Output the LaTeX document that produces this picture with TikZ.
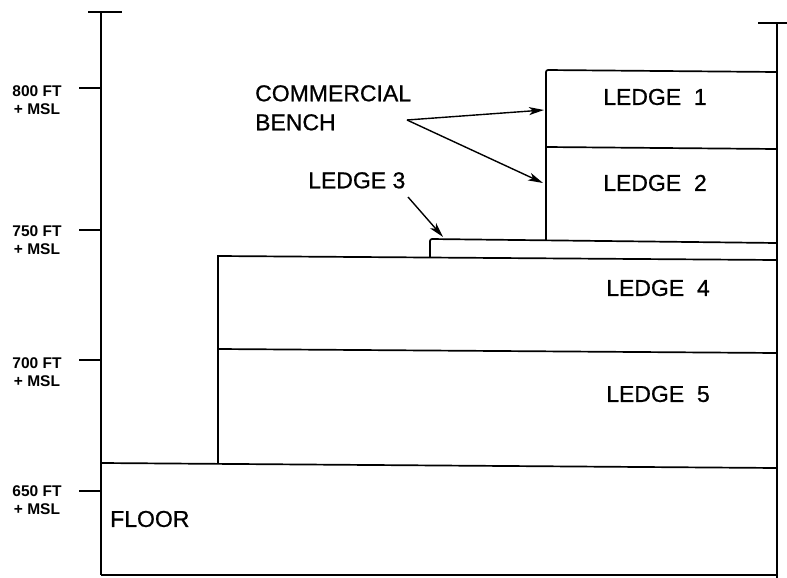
\documentclass[tikz,border=0pt]{standalone}
\usepackage{fontspec}
\setmainfont{Liberation Sans}
\newfontfamily\ledgefont[FakeBold=0.8]{Liberation Sans}
\usetikzlibrary{arrows.meta}

\begin{document}
\begin{tikzpicture}[x=1pt,y=-1pt,
    wall/.style={line width=2.6pt},
    edge/.style={line width=1.7pt},
    ledge/.style={font=\ledgefont\fontsize{23}{29}\selectfont,inner sep=0pt},
    elev/.style={font=\bfseries\fontsize{15.5}{18}\selectfont,inner sep=0pt,align=center},
    arrow/.style={-{Stealth[length=15pt,width=8pt,inset=4pt]},line width=1.4pt}]
  \useasboundingbox (0,0) rectangle (787,578);
  % pit walls
  \draw[wall] (88,12) -- (122,12);
  \draw[wall] (101,12) -- (101,575);
  \draw[wall] (758,23) -- (787,23);
  \draw[wall] (777,23) -- (777,578);
  % elevations
  \foreach \y in {88,230,360,491}
    \draw[edge] (79,\y) -- (101,\y);
  \node[elev] (e800) at (37,100) {800 FT\\+ MSL};
  \node[elev] (e750) at (37,240) {750 FT\\+ MSL};
  \node[elev] (e700) at (37,372) {700 FT\\+ MSL};
  \node[elev] (e650) at (37,500) {650 FT\\+ MSL};
  % floor
  \draw[edge] (101,463) -- (777,468);
  \draw[edge] (101,575) -- (777,575);
  % ledges 4 and 5
  \draw[edge] (218,463) -- (218,256) -- (777,260);
  \draw[edge] (218,349) -- (777,353);
  % ledge 3
  \draw[edge,rounded corners=2pt] (430,257) -- (430,239) -- (777,243);
  % ledges 1 and 2
  \draw[edge,rounded corners=2pt] (546,240) -- (546,70) -- (777,72);
  \draw[edge] (546,147) -- (777,149);
  % labels
  \node[ledge] (l1) at (655,97) {LEDGE~~1};
  \node[ledge] (l2) at (655,183) {LEDGE~~2};
  \node[ledge] (l4) at (658,288) {LEDGE~~4};
  \node[ledge] (l5) at (658,394) {LEDGE~~5};
  \node[ledge,anchor=west] (floor) at (110,519) {FLOOR};
  \node[ledge,align=left,anchor=north west] (bench) at (255,85) {COMMERCIAL\\BENCH};
  \node[ledge,anchor=north west] (l3) at (308,172) {LEDGE 3};
  % pointers
  \coordinate (benchtail) at (407,120);
  \coordinate (l1face) at (544,110);
  \coordinate (l2face) at (543,183);
  \coordinate (l3tail) at (408,197);
  \coordinate (l3top) at (443,237);
  \draw[arrow] (benchtail) -- (l1face);
  \draw[arrow] (benchtail) -- (l2face);
  \draw[arrow] (l3tail) -- (l3top);
\end{tikzpicture}
\end{document}
